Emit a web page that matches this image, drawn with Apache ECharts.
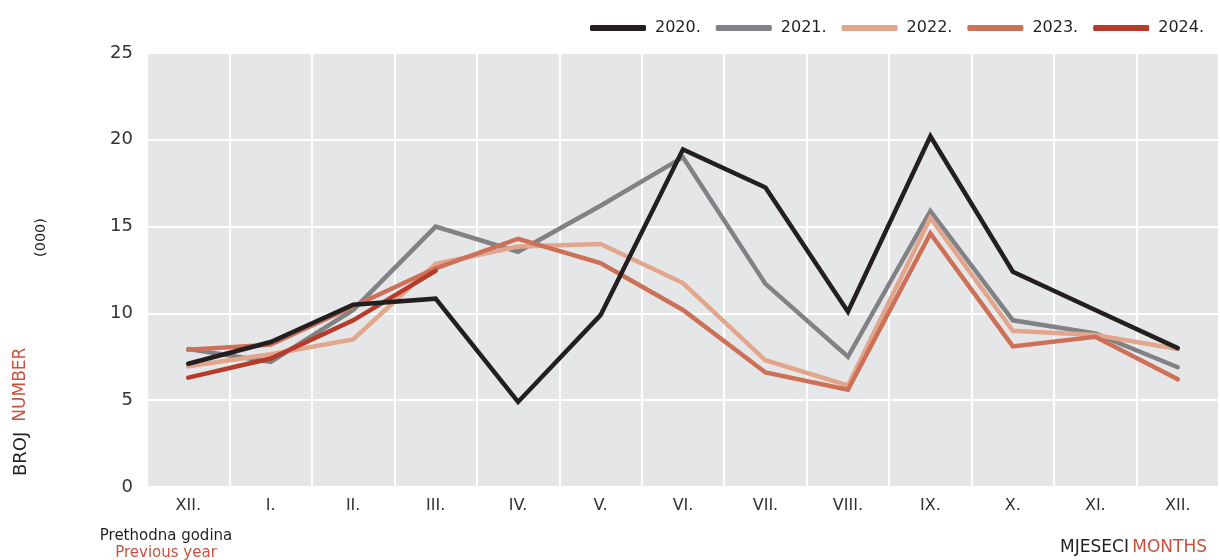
<!DOCTYPE html>
<html>
<head>
<meta charset="utf-8">
<script src="https://cdn.jsdelivr.net/npm/echarts@6/dist/echarts.min.js"></script>
<style>
  html, body { margin: 0; padding: 0; background: #fff; }
  #myChart { width: 1220px; height: 560px; }
</style>
</head>
<body>
<div id="myChart"></div>
<script>
// mjeseci (prvi XII. je prethodna godina)
var months = ['XII.', 'I.', 'II.', 'III.', 'IV.', 'V.', 'VI.', 'VII.', 'VIII.', 'IX.', 'X.', 'XI.', 'XII.'];
var years = ['2020.', '2021.', '2022.', '2023.', '2024.'];
var colors = ['#231f20', '#818285', '#e2a68d', '#cd7058', '#b73b2a'];

// broj (000)
var y2020 = [7.1, 8.35, 10.5, 10.85, 4.9, 9.9, 19.45, 17.25, 10.1, 20.2, 12.4, 10.2, 8.0];
var y2021 = [7.95, 7.2, 10.2, 15.0, 13.55, 16.2, 19.0, 11.7, 7.5, 15.9, 9.6, 8.85, 6.9];
var y2022 = [6.95, 7.65, 8.5, 12.85, 13.85, 14.0, 11.75, 7.3, 5.85, 15.5, 9.0, 8.75, 7.95];
var y2023 = [7.9, 8.2, 10.4, 12.6, 14.3, 12.9, 10.2, 6.6, 5.6, 14.6, 8.1, 8.65, 6.2];
var y2024 = [6.3, 7.4, 9.6, 12.45, null, null, null, null, null, null, null, null, null];

var yTicks = [0, 5, 10, 15, 20, 25];

var font = 'DejaVu Sans';
var red = '#c8513f';

var myChart = echarts.init(document.getElementById('myChart'), null, {renderer: 'canvas'});

function makeSeries(name, data, color, z) {
    return {
        name: name,
        type: 'line',
        data: data,
        z: z,
        symbol: 'none',
        connectNulls: false,
        lineStyle: { color: color, width: 4.5, cap: 'round', join: 'miter' },
        itemStyle: { color: color }
    };
}

myChart.setOption({
    animation: false,
    color: colors,
    textStyle: { fontFamily: font },
    grid: { left: 147, right: 1, top: 53, bottom: 73, backgroundColor: '#e5e6e8', show: true, borderWidth: 0 },
    legend: {
        top: 15,
        right: 11,
        itemWidth: 56,
        itemHeight: 6,
        itemGap: 15,
        icon: 'roundRect',
        textStyle: { fontFamily: font, fontSize: 16, color: '#231f20', padding: [0, 0, 0, 4] },
        data: years
    },
    xAxis: {
        type: 'category',
        data: months,
        boundaryGap: true,
        axisLine: { show: false },
        axisTick: { show: false },
        axisLabel: { color: '#333', fontSize: 16, margin: 11, fontFamily: font },
        splitLine: { show: true, lineStyle: { color: '#fff', width: 2 } }
    },
    yAxis: {
        type: 'value',
        min: yTicks[0],
        max: yTicks[yTicks.length - 1],
        interval: 5,
        axisLine: { show: false },
        axisTick: { show: false },
        axisLabel: { color: '#333', fontSize: 18, margin: 14, fontFamily: font },
        splitLine: { show: true, lineStyle: { color: '#fff', width: 2 } }
    },
    graphic: [
        {
            type: 'text', x: 12, y: 476, rotation: Math.PI / 2,
            style: {
                text: '{a|BROJ}   {b|NUMBER}',
                rich: {
                    a: { fill: '#231f20', fontSize: 18, fontFamily: font },
                    b: { fill: red, fontSize: 17, fontFamily: font }
                },
                verticalAlign: 'top'
            }
        },
        {
            type: 'text', x: 34, y: 257, rotation: Math.PI / 2,
            style: { text: '(000)', fill: '#231f20', fontSize: 14.5, fontFamily: font, verticalAlign: 'top' }
        },
        {
            type: 'text', x: 166, y: 536,
            style: { text: 'Prethodna godina', fill: '#231f20', fontSize: 15, fontFamily: font, align: 'center', verticalAlign: 'middle' }
        },
        {
            type: 'text', x: 166, y: 553,
            style: { text: 'Previous year', fill: red, fontSize: 15, fontFamily: font, align: 'center', verticalAlign: 'middle' }
        },
        {
            type: 'text', x: 1207, y: 548,
            style: {
                text: '{a|MJESECI} {b|MONTHS}',
                rich: {
                    a: { fill: '#231f20', fontSize: 17, fontFamily: font },
                    b: { fill: red, fontSize: 17, fontFamily: font }
                },
                align: 'right',
                verticalAlign: 'middle'
            }
        }
    ],
    series: [
        makeSeries(years[1], y2021, colors[1], 2),
        makeSeries(years[2], y2022, colors[2], 3),
        makeSeries(years[3], y2023, colors[3], 4),
        makeSeries(years[4], y2024, colors[4], 5),
        makeSeries(years[0], y2020, colors[0], 6)
    ]
});
</script>
</body>
</html>
